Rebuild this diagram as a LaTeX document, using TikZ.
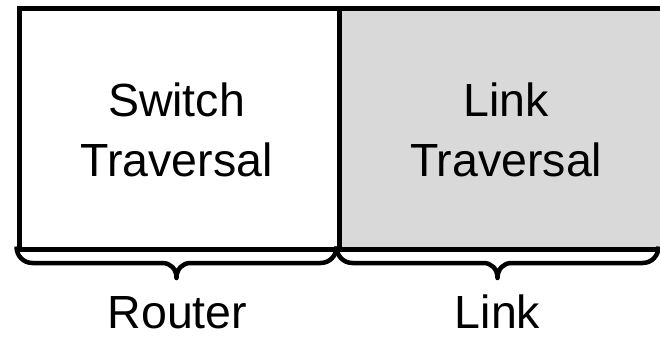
\documentclass[tikz,border=0pt]{standalone}
\usepackage{fontspec}
\setmainfont{Liberation Sans}
\usetikzlibrary{calc}

\tikzset{
  stage/.style={draw=black, line width=5pt, minimum width=#1, minimum height=240pt,
    inner sep=0pt, anchor=north west},
  stagetext/.style={align=center, inner sep=0pt, font=\fontsize{46.5}{60}\selectfont},
  caption/.style={anchor=base, inner sep=0pt, font=\fontsize{46.5}{60}\selectfont},
  bracestyle/.style={draw=black, line width=4.5pt, line join=round}
}

% curly brace under a stage, from x=#1 to x=#2 (hangs from y=246.5)
\newcommand\drawbrace[2]{%
  \draw[bracestyle] (#1,246.5)
    .. controls (#1,256) and ({#1+7},263) .. ({#1+16},263)
    -- ({(#1+#2)/2-14},263)
    .. controls ({(#1+#2)/2-6},263) and ({(#1+#2)/2},269) .. ({(#1+#2)/2},278)
    .. controls ({(#1+#2)/2},269) and ({(#1+#2)/2+6},263) .. ({(#1+#2)/2+14},263)
    -- ({#2-16},263)
    .. controls ({#2-7},263) and (#2,256) .. (#2,246.5);}

\begin{document}
\begin{tikzpicture}[x=1pt, y=-1pt]
  \useasboundingbox (0,0) rectangle (660,339);
  \clip (0,0) rectangle (660,339);
  \fill[white] (0,0) rectangle (660,339);

  % the two pipeline stages
  \node[stage=339.5pt, fill={rgb,255:red,217;green,217;blue,217}] (lt) at (336.5,6.5) {};
  \node[stage=320pt, fill=white] (st) at (16.5,6.5) {};

  \node[stagetext] (sttext) at (176.5,130) {Switch\\Traversal};
  \node[stagetext] (lttext) at (506.25,130) {Link\\Traversal};

  % braces grouping the stages
  \drawbrace{16.5}{336.5}
  \drawbrace{336.5}{658.5}

  \node[caption] (router) at (177.5,328) {Router};
  \node[caption] (link) at (497.5,328) {Link};
\end{tikzpicture}
\end{document}
